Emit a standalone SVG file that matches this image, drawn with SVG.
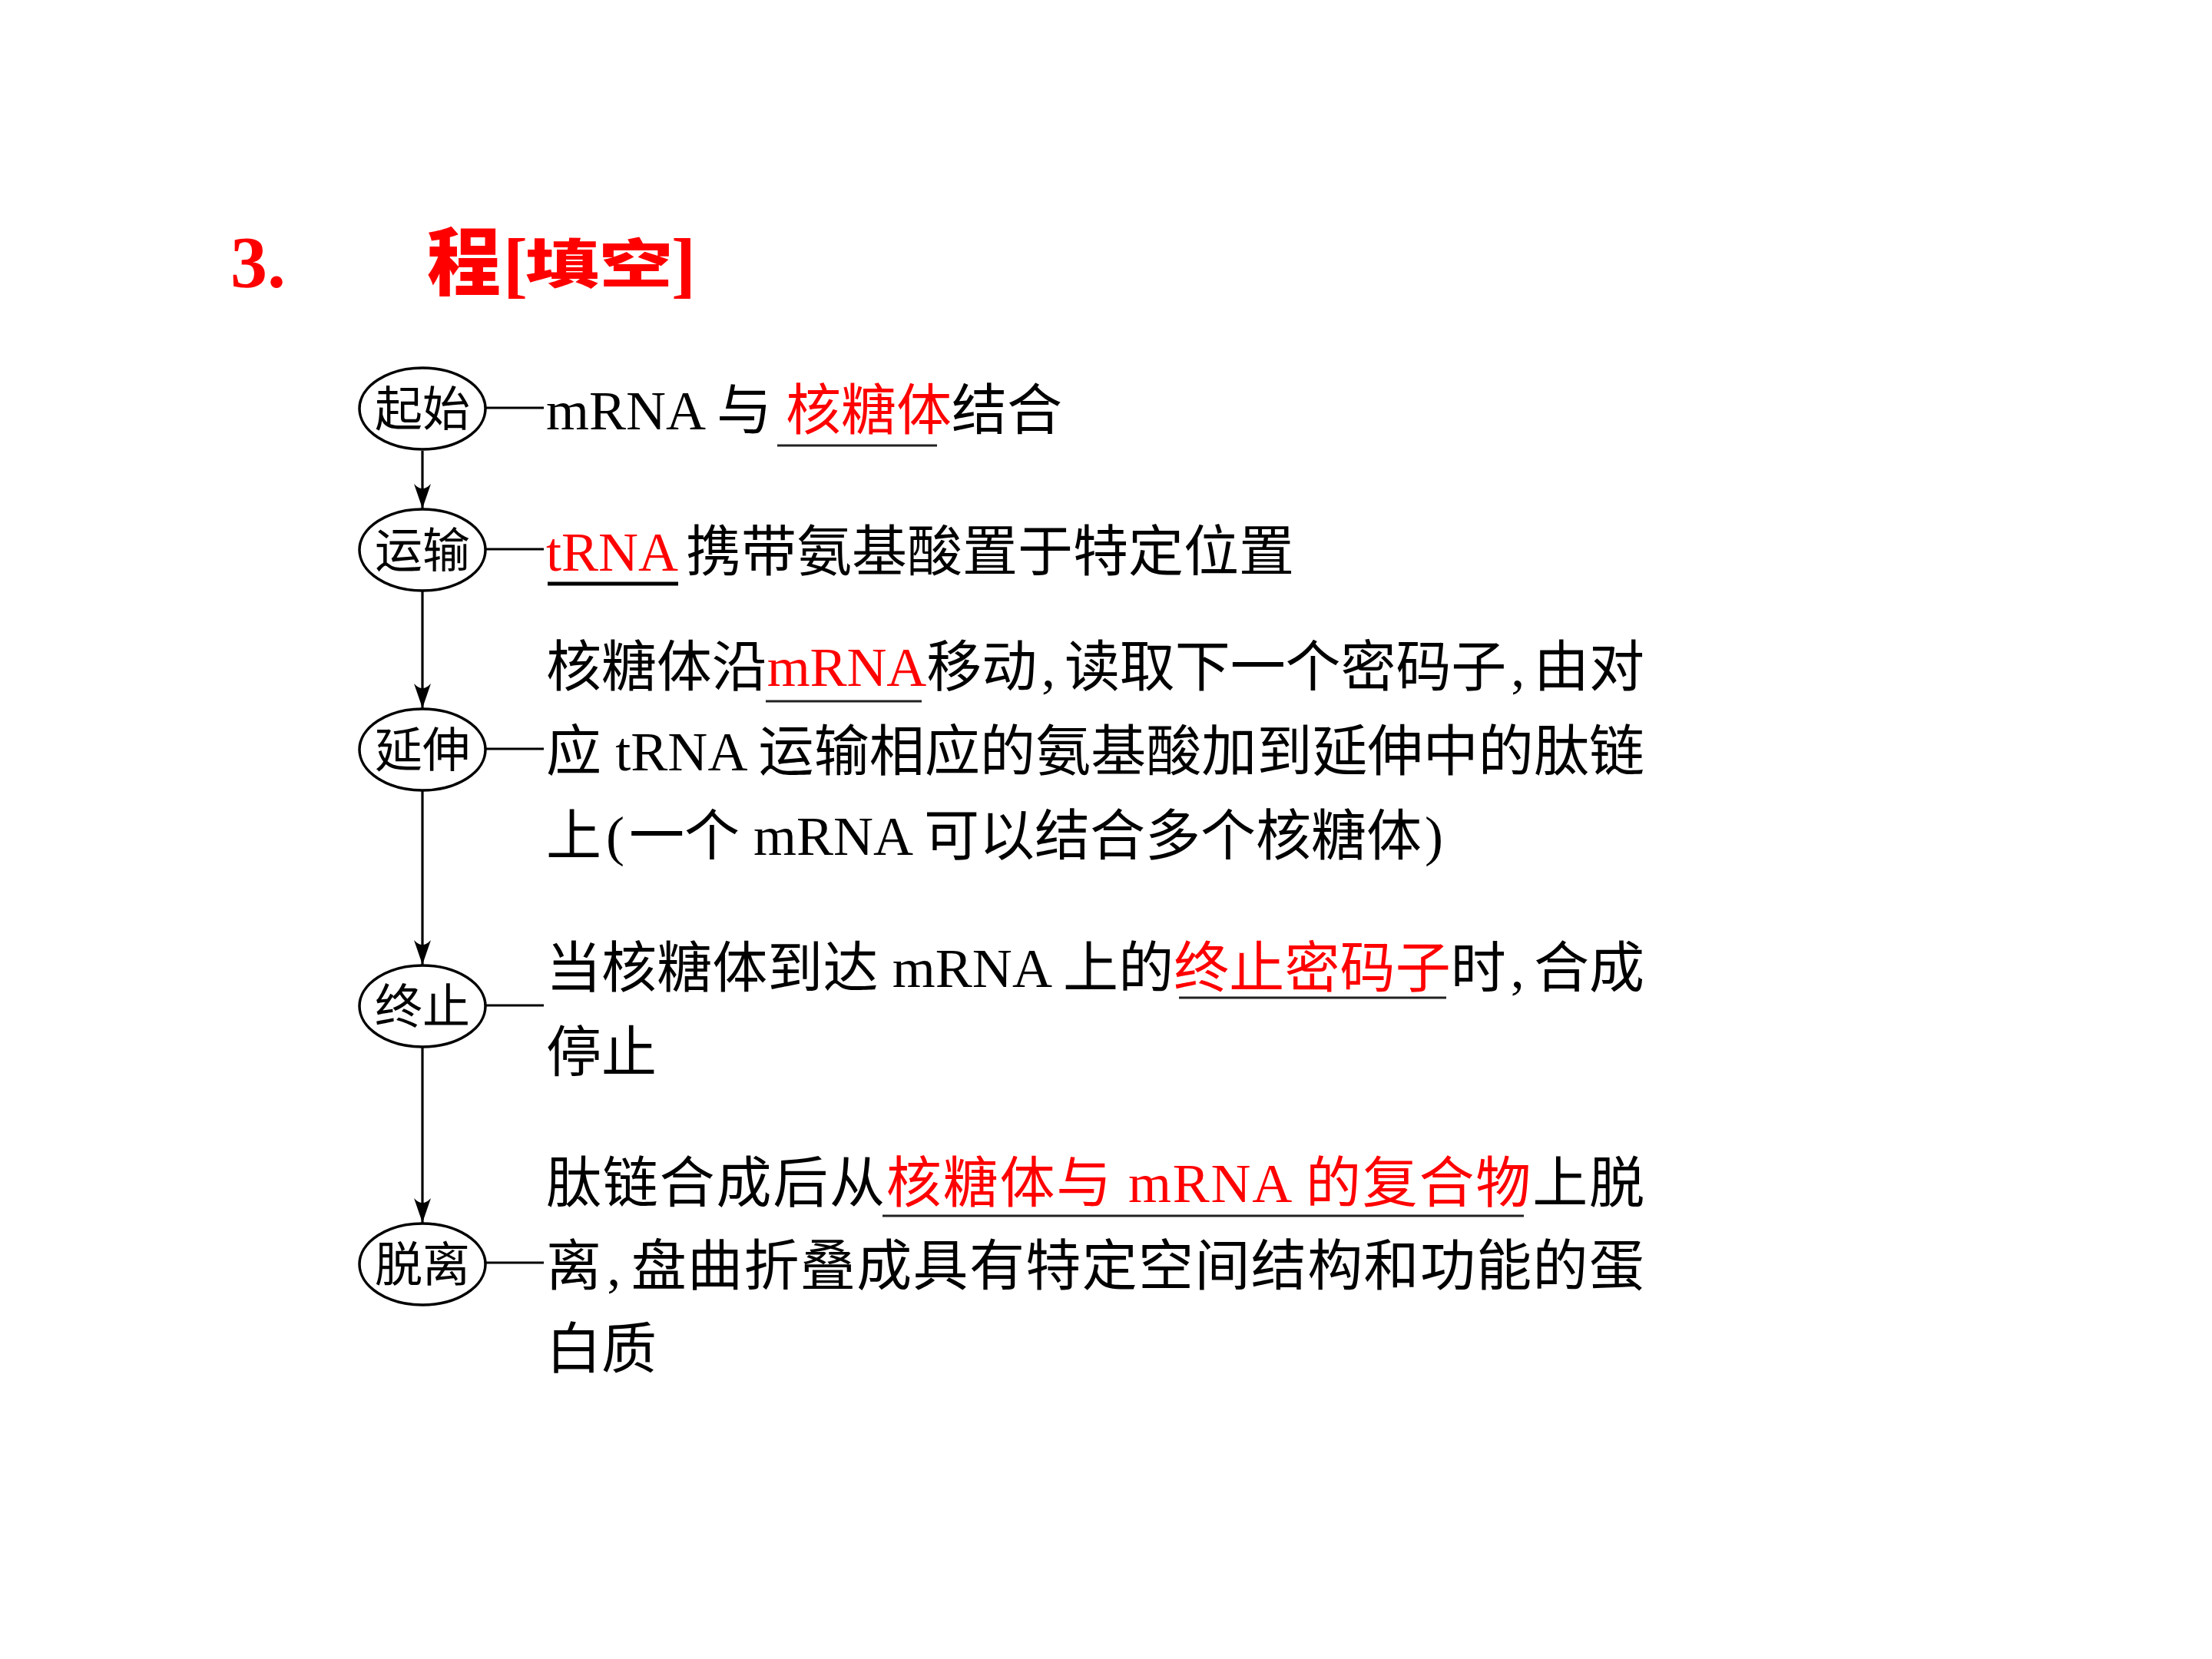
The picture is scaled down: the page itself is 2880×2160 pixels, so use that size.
<svg xmlns="http://www.w3.org/2000/svg" width="2880" height="2160" viewBox="0 0 2880 2160">
  <style>
    .t { font-family: "Liberation Serif", "Noto Sans CJK SC", serif; font-size: 72px; fill: #000; }
    .r { fill: #ff0000; }
    .n { font-family: "Liberation Serif", "Noto Sans CJK SC", serif; font-size: 62px; fill: #000; text-anchor: middle; }
    .node { fill: #fff; stroke: #000; stroke-width: 3.5; }
    .link { stroke: #000; stroke-width: 3.2; fill: none; }
    .ul { stroke: #222; stroke-width: 3; }
    .title { fill: #ff0000; }
  </style>
  <defs>
    <marker id="arr" viewBox="-34 -13 36 26" markerWidth="36" markerHeight="26" refX="0" refY="0" markerUnits="userSpaceOnUse" orient="auto">
      <path d="M0,0 L-32,-11 Q-20,0 -32,11 Z" fill="#000"/>
    </marker>
  </defs>
  <rect width="2880" height="2160" fill="#fff"/>

  <g id="title">
    <text x="300" y="374" class="title" style="font-family:'Liberation Serif',serif;font-weight:bold;font-size:96px">3.</text>
    <text x="556" y="376" class="title" style="font-family:'Noto Sans CJK SC',sans-serif;font-weight:900;font-size:96px">程</text>
    <text x="655" y="376" class="title" style="font-family:'Liberation Serif',serif;font-weight:bold;font-size:96px">[</text>
    <text transform="translate(684,369) scale(1,0.72)" class="title" style="font-family:'Noto Sans CJK SC',sans-serif;font-weight:900;font-size:96px">填空</text>
    <text x="874" y="376" class="title" style="font-family:'Liberation Serif',serif;font-weight:bold;font-size:96px">]</text>
  </g>

  <g id="connectors">
    <line class="link" x1="550" y1="587" x2="550" y2="662" marker-end="url(#arr)"/>
    <line class="link" x1="550" y1="770" x2="550" y2="922" marker-end="url(#arr)"/>
    <line class="link" x1="550" y1="1030" x2="550" y2="1256" marker-end="url(#arr)"/>
    <line class="link" x1="550" y1="1364" x2="550" y2="1592" marker-end="url(#arr)"/>
    <line class="link" x1="633" y1="531" x2="708" y2="531"/>
    <line class="link" x1="633" y1="715" x2="708" y2="715"/>
    <line class="link" x1="633" y1="975" x2="708" y2="975"/>
    <line class="link" x1="633" y1="1309" x2="708" y2="1309"/>
    <line class="link" x1="633" y1="1644" x2="708" y2="1644"/>
  </g>

  <g id="node-start">
    <ellipse class="node" cx="550" cy="532" rx="82" ry="53"/>
    <text class="n" x="550" y="555">起始</text>
  </g>
  <g id="node-transport">
    <ellipse class="node" cx="550" cy="716" rx="82" ry="53"/>
    <text class="n" x="550" y="739">运输</text>
  </g>
  <g id="node-elongation">
    <ellipse class="node" cx="550" cy="976" rx="82" ry="53"/>
    <text class="n" x="550" y="999">延伸</text>
  </g>
  <g id="node-termination">
    <ellipse class="node" cx="550" cy="1310" rx="82" ry="53"/>
    <text class="n" x="550" y="1333">终止</text>
  </g>
  <g id="node-release">
    <ellipse class="node" cx="550" cy="1646" rx="82" ry="53"/>
    <text class="n" x="550" y="1669">脱离</text>
  </g>

  <g id="text-start">
    <text class="t" x="711" y="559">mRNA 与 <tspan class="r">核糖体</tspan>结合</text>
    <line class="ul" x1="1012" y1="580" x2="1220" y2="580"/>
  </g>
  <g id="text-transport">
    <text class="t" x="711" y="743"><tspan class="r">tRNA</tspan><tspan dx="10">携带氨基酸置于特定位置</tspan></text>
    <line class="ul" x1="713" y1="760" x2="883" y2="760" style="stroke:#000;stroke-width:5"/>
  </g>
  <g id="text-elongation">
    <text class="t" x="711" y="893" textLength="1430" lengthAdjust="spacing">核糖体沿<tspan class="r">mRNA</tspan>移动<tspan dx="6">,</tspan><tspan dx="12">读取下一个密码子</tspan><tspan dx="6">,</tspan><tspan dx="12">由对</tspan></text>
    <text class="t" x="711" y="1003" textLength="1430" lengthAdjust="spacing">应 tRNA 运输相应的氨基酸加到延伸中的肽链</text>
    <text class="t" x="711" y="1113">上<tspan dx="6">(</tspan><tspan dx="6">一个 mRNA 可以结合多个核糖体</tspan><tspan dx="4">)</tspan></text>
    <line class="ul" x1="997" y1="913" x2="1200" y2="913"/>
  </g>
  <g id="text-termination">
    <text class="t" x="711" y="1285" textLength="1430" lengthAdjust="spacing">当核糖体到达 mRNA 上的<tspan class="r">终止密码子</tspan>时<tspan dx="6">,</tspan><tspan dx="12">合成</tspan></text>
    <text class="t" x="711" y="1395">停止</text>
    <line class="ul" x1="1535" y1="1299" x2="1883" y2="1299"/>
  </g>
  <g id="text-release">
    <text class="t" x="711" y="1565" textLength="1430" lengthAdjust="spacing">肽链合成后从<tspan class="r">核糖体与 mRNA 的复合物</tspan>上脱</text>
    <text class="t" x="711" y="1673" textLength="1430" lengthAdjust="spacing">离<tspan dx="6">,</tspan><tspan dx="12">盘曲折叠成具有特定空间结构和功能的蛋</tspan></text>
    <text class="t" x="711" y="1781">白质</text>
    <line class="ul" x1="1149" y1="1583" x2="1984" y2="1583"/>
  </g>
</svg>
